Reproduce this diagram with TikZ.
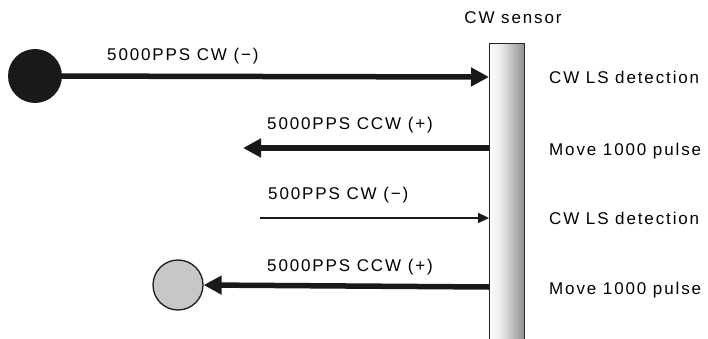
\documentclass[tikz,border=0pt]{standalone}
\usepackage{fontspec}
\setmainfont{Liberation Sans}[LetterSpace=11]
\usetikzlibrary{arrows.meta}
\pgfdeclarehorizontalshading{barshade}{100bp}{
  color(0bp)=(black!15); color(22bp)=(white); color(40bp)=(white!93!black); color(75bp)=(black!45); color(100bp)=(black!62)}
\tikzset{
  lbl/.style={font=\fontsize{17}{20}\selectfont, inner sep=0pt, anchor=base west},
  thick arrow/.style={line width=5.5pt, -{Triangle[length=18pt,width=18pt]}, draw=black!90},
  thin arrow/.style={line width=2.2pt, -{Triangle[length=11pt,width=10pt]}, draw=black!90},
}
\begin{document}
\begin{tikzpicture}[x=1pt,y=-1pt]
\useasboundingbox (0,0) rectangle (708,339);
% sensor bar
\node[draw=black!85, line width=1.3pt, shading=barshade, minimum width=35pt, minimum height=300pt, inner sep=0pt, anchor=north west] (bar) at (489,43) {};
\node[lbl, anchor=base] (cws) at (513,24) {CW sensor};
% start and end circles
\node[circle, fill=black!90, minimum size=54pt, inner sep=0pt] (start) at (35,76) {};
\node[circle, draw=black!90, fill=black!22, line width=1.3pt, minimum size=50pt, inner sep=0pt] (stop) at (178,285) {};
% coordinates
\coordinate (b1) at (489,77);
\coordinate (b2) at (489,148);
\coordinate (b3) at (489,218);
\coordinate (b4) at (489,287);
\coordinate (e2) at (243,148);
\coordinate (s3) at (260,218);
% arrows
\draw[thick arrow] (start.center) -- (b1);
\draw[thick arrow] (b2) -- (e2);
\draw[thin arrow] (s3) -- (b3);
\draw[thick arrow] (b4) -- (stop.east);
% labels
\node[lbl] (l1) at (107,61) {5000PPS CW (−)};
\node[lbl] (l2) at (267,130) {5000PPS CCW (+)};
\node[lbl] (l3) at (268,199) {500PPS CW (−)};
\node[lbl] (l4) at (267,271) {5000PPS CCW (+)};
\node[lbl] (r1) at (549,84) {CW LS detection};
\node[lbl] (r2) at (549,155) {Move 1000 pulse};
\node[lbl] (r3) at (549,224) {CW LS detection};
\node[lbl] (r4) at (549,294) {Move 1000 pulse};
\end{tikzpicture}
\end{document}
